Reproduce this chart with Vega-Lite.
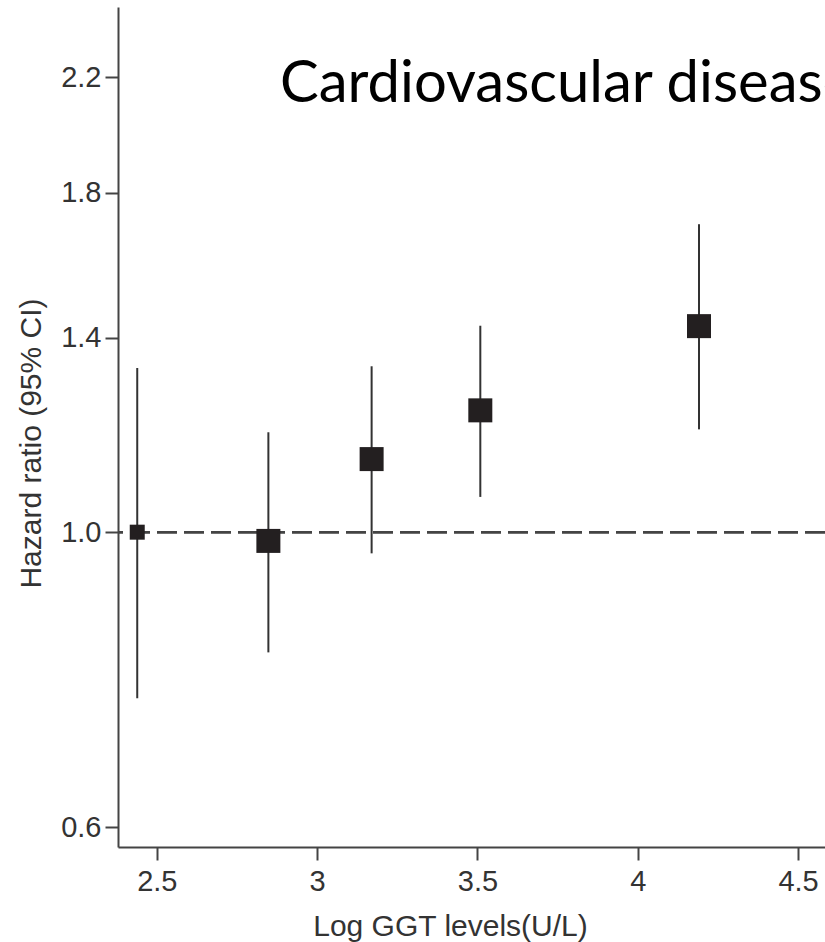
{
  "$schema": "https://vega.github.io/schema/vega-lite/v6.json",
  "autosize": "none",
  "width": 707,
  "height": 840,
  "padding": {"left": 118, "top": 7, "right": 0, "bottom": 95},
  "background": "white",
  "config": {"view": {"stroke": null}},
  "title": {
    "text": "Cardiovascular disease",
    "font": "Lato",
    "fontSize": 58,
    "fontWeight": "normal",
    "color": "#000000",
    "anchor": "start",
    "frame": "group",
    "baseline": "alphabetic",
    "offset": 0,
    "dx": 162,
    "dy": 153
  },
  "data": {
    "values": [
      {"ggt": 2.439, "hr": 1.0, "lo": 0.750, "hi": 1.329, "group": "reference"},
      {"ggt": 2.848, "hr": 0.985, "lo": 0.812, "hi": 1.189, "group": "level"},
      {"ggt": 3.170, "hr": 1.135, "lo": 0.964, "hi": 1.333, "group": "level"},
      {"ggt": 3.509, "hr": 1.235, "lo": 1.063, "hi": 1.430, "group": "level"},
      {"ggt": 4.191, "hr": 1.429, "lo": 1.195, "hi": 1.705, "group": "level"}
    ]
  },
  "encoding": {
    "x": {
      "field": "ggt",
      "type": "quantitative",
      "scale": {"domain": [2.379, 4.584], "nice": false, "zero": false},
      "axis": {
        "title": "Log GGT levels(U/L)",
        "values": [2.5, 3, 3.5, 4, 4.5],
        "format": "~g",
        "grid": false,
        "domainColor": "#444444",
        "domainWidth": 2,
        "tickColor": "#444444",
        "tickWidth": 2,
        "tickSize": 13,
        "labelFont": "Liberation Sans",
        "labelFontSize": 29,
        "labelColor": "#333333",
        "labelPadding": 7,
        "labelFlush": false,
        "labelOverlap": false,
        "titleFont": "Liberation Sans",
        "titleFontSize": 30,
        "titleFontWeight": "normal",
        "titleColor": "#333333",
        "titleX": 332,
        "titleY": 88,
        "titleAlign": "center",
        "titleBaseline": "alphabetic"
      }
    }
  },
  "layer": [
    {
      "mark": {"type": "rule", "color": "#444444", "strokeWidth": 2, "strokeDash": [20, 7]},
      "encoding": {"x": null, "y": {"datum": 1, "type": "quantitative"}}
    },
    {
      "mark": {"type": "rule", "color": "#333333", "strokeWidth": 2},
      "encoding": {
        "y": {
          "field": "lo",
          "type": "quantitative",
          "scale": {"type": "log", "domain": [0.5796, 2.484], "nice": false, "zero": false},
          "axis": {
            "title": "Hazard ratio (95% CI)",
            "values": [0.6, 1.0, 1.4, 1.8, 2.2],
            "format": ".1f",
            "grid": false,
            "domainColor": "#444444",
            "domainWidth": 2,
            "tickColor": "#444444",
            "tickWidth": 2,
            "tickSize": 13,
            "labelFont": "Liberation Sans",
            "labelFontSize": 29,
            "labelColor": "#333333",
            "labelPadding": 4,
            "labelFlush": false,
            "labelOverlap": false,
            "titleFont": "Liberation Sans",
            "titleFontSize": 30,
            "titleFontWeight": "normal",
            "titleColor": "#333333",
            "titleX": -87,
            "titleY": 436,
            "titleAlign": "center",
            "titleBaseline": "middle",
            "titleAngle": -90
          }
        },
        "y2": {"field": "hi"}
      }
    },
    {
      "mark": {"type": "point", "shape": "square", "filled": true, "color": "#231f20", "opacity": 1},
      "encoding": {
        "y": {"field": "hr", "type": "quantitative"},
        "size": {
          "field": "group",
          "type": "nominal",
          "scale": {"domain": ["reference", "level"], "range": [225, 576]},
          "legend": null
        }
      }
    }
  ]
}
